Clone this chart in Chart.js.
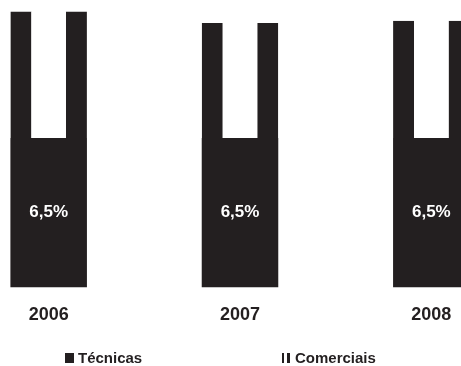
<!DOCTYPE html>
<html>
<head>
<meta charset="utf-8">
<script src="https://cdn.jsdelivr.net/npm/chart.js@4/dist/chart.umd.min.js"></script>
<style>
  html, body { margin: 0; padding: 0; background: #fff; overflow: hidden; }
  #wrap { position: absolute; left: -47px; top: 0; width: 574px; height: 366px; }
</style>
</head>
<body>
<div id="wrap"><canvas id="chart"></canvas></div>
<script>
const years = ['2006', '2007', '2008'];
const tecnicas = [6.5, 6.5, 6.5];
const comerciais = [5.5, 5.0, 5.1];

const ink = '#231f20';
const fontFamily = '"Liberation Sans", Arial, Helvetica, sans-serif';

// white percentage inside the dark segment
const valueLabels = {
  id: 'valueLabels',
  afterDatasetsDraw(chart) {
    const ctx = chart.ctx;
    const meta = chart.getDatasetMeta(0);
    ctx.save();
    ctx.fillStyle = '#fff';
    ctx.font = 'bold 17px ' + fontFamily;
    ctx.textAlign = 'center';
    ctx.textBaseline = 'middle';
    meta.data.forEach((bar, i) => {
      const p = bar.getProps(['x', 'y', 'base'], true);
      const txt = String(tecnicas[i]).replace('.', ',') + '%';
      ctx.fillText(txt, p.x, (p.y + p.base) / 2);
    });
    ctx.restore();
  }
};

// legend row under the axis, wide gap between the two entries
const spreadLegend = {
  id: 'spreadLegend',
  afterDraw(chart, args, opts) {
    const ctx = chart.ctx;
    const y = opts.y;
    ctx.save();
    ctx.font = 'bold 15px ' + fontFamily;
    ctx.textBaseline = 'middle';
    ctx.fillStyle = ink;
    chart.data.datasets.forEach((ds, i) => {
      const x = opts.x[i];
      if (i === 0) {
        ctx.fillRect(x, y - 5, 9, 10);
      } else {
        ctx.fillRect(x, y - 5, 2, 10);
        ctx.fillRect(x + 5, y - 5, 3, 10);
      }
      ctx.fillText(ds.label, x + 13, y + 1);
    });
    ctx.restore();
  }
};

new Chart(document.getElementById('chart'), {
  type: 'bar',
  data: {
    labels: years,
    datasets: [
      {
        label: 'Técnicas',
        data: tecnicas,
        backgroundColor: ink,
        borderWidth: 0,
        categoryPercentage: 1,
        barPercentage: 0.4
      },
      {
        label: 'Comerciais',
        data: comerciais,
        backgroundColor: '#fff',
        borderColor: ink,
        borderWidth: { left: 21, right: 21, top: 0, bottom: 0 },
        borderSkipped: false,
        categoryPercentage: 1,
        barPercentage: 0.4
      }
    ]
  },
  options: {
    responsive: true,
    maintainAspectRatio: false,
    animation: false,
    layout: { padding: { top: 0, left: 0, right: 0, bottom: 23 } },
    scales: {
      x: {
        stacked: true,
        offset: true,
        grid: { display: false, drawTicks: false },
        border: { display: false },
        ticks: {
          color: ink,
          padding: 17,
          font: { family: fontFamily, size: 18, weight: 'bold' }
        }
      },
      y: {
        stacked: true,
        display: false,
        min: 0,
        max: 12.5
      }
    },
    plugins: {
      legend: { display: false },
      tooltip: { enabled: false },
      spreadLegend: { x: [65 + 47, 282 + 47], y: 358 }
    }
  },
  plugins: [valueLabels, spreadLegend]
});
</script>
</body>
</html>
